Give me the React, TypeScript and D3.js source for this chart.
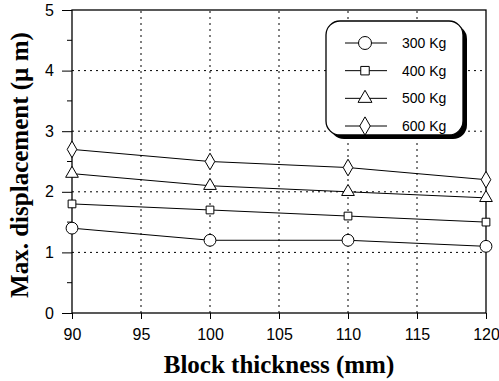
import React, { useEffect, useRef } from "react";
import * as d3 from "d3";

const thickness = [90, 100, 110, 120];
const loads = ["300 Kg", "400 Kg", "500 Kg", "600 Kg"];
const disp300 = [1.4, 1.2, 1.2, 1.1];
const disp400 = [1.8, 1.7, 1.6, 1.5];
const disp500 = [2.3, 2.1, 2.0, 1.9];
const disp600 = [2.7, 2.5, 2.4, 2.2];
const xTicks = [90, 95, 100, 105, 110, 115, 120];
const yTicks = [0, 1, 2, 3, 4, 5];

const series = [disp300, disp400, disp500, disp600];
const symbols = [d3.symbolCircle, d3.symbolSquare, d3.symbolTriangle, d3.symbolDiamond];
const symSizes = [110, 60, 70, 80];

const App = () => {
  const ref = useRef<SVGSVGElement>(null);

  useEffect(() => {
    const width = 499;
    const height = 381;
    const svg = d3.select(ref.current).attr("width", width).attr("height", height);
    svg.selectAll("*").remove();

    const x = d3.scaleLinear().domain([90, 120]).range([72, 486]);
    const y = d3.scaleLinear().domain([0, 5]).range([313, 10]);

    // grid
    svg.append("g")
      .selectAll("line")
      .data(xTicks.slice(1, -1))
      .join("line")
      .attr("x1", (d) => x(d)).attr("x2", (d) => x(d))
      .attr("y1", y(0)).attr("y2", y(5))
      .attr("stroke", "#000").attr("stroke-width", 1)
      .attr("stroke-dasharray", "2,4");
    svg.append("g")
      .selectAll("line")
      .data(yTicks.slice(1, -1))
      .join("line")
      .attr("x1", x(90)).attr("x2", x(120))
      .attr("y1", (d) => y(d)).attr("y2", (d) => y(d))
      .attr("stroke", "#000").attr("stroke-width", 1)
      .attr("stroke-dasharray", "2,4");

    // frame
    svg.append("rect")
      .attr("x", x(90)).attr("y", y(5))
      .attr("width", x(120) - x(90)).attr("height", y(0) - y(5))
      .attr("fill", "none").attr("stroke", "#000").attr("stroke-width", 1.3);

    // axes
    const xAxis = svg.append("g")
      .attr("transform", `translate(0,${y(0)})`)
      .call(d3.axisBottom(x).tickValues(xTicks).tickSize(6).tickPadding(10).tickFormat(d3.format("d")));
    xAxis.select(".domain").remove();
    xAxis.selectAll("text").attr("font-family", "Liberation Sans, Arial").attr("font-size", 16).attr("fill", "#000");

    const yAxis = svg.append("g")
      .attr("transform", `translate(${x(90)},0)`)
      .call(d3.axisLeft(y).tickValues(yTicks).tickSize(10).tickPadding(8).tickFormat(d3.format("d")));
    yAxis.select(".domain").remove();
    yAxis.selectAll("text").attr("font-family", "Liberation Sans, Arial").attr("font-size", 16).attr("fill", "#000");

    svg.append("g")
      .selectAll("line")
      .data(d3.range(0.5, 5, 1))
      .join("line")
      .attr("x1", x(90) - 5).attr("x2", x(90))
      .attr("y1", (d) => y(d)).attr("y2", (d) => y(d))
      .attr("stroke", "#000");

    // lines + markers
    const line = d3.line<number>().x((_, i) => x(thickness[i])).y((d) => y(d));
    series.forEach((s, k) => {
      svg.append("path").attr("d", line(s)).attr("fill", "none").attr("stroke", "#000").attr("stroke-width", 1);
      svg.append("g")
        .selectAll("path")
        .data(s)
        .join("path")
        .attr("transform", (d, i) => `translate(${x(thickness[i])},${y(d)})`)
        .attr("d", d3.symbol().type(symbols[k]).size(symSizes[k])())
        .attr("fill", "#fff").attr("stroke", "#000").attr("stroke-width", 1);
    });

    // legend
    const lg = svg.append("g");
    lg.append("rect").attr("x", 330).attr("y", 25).attr("width", 137).attr("height", 114)
      .attr("rx", 14).attr("fill", "#000");
    lg.append("rect").attr("x", 326).attr("y", 21).attr("width", 137).attr("height", 114)
      .attr("rx", 14).attr("fill", "#fff").attr("stroke", "#000").attr("stroke-width", 1.3);
    const legY = d3.scalePoint().domain(loads).range([43, 126]);
    loads.forEach((name, k) => {
      const yy = legY(name)!;
      lg.append("line").attr("x1", 345).attr("x2", 387).attr("y1", yy).attr("y2", yy).attr("stroke", "#000");
      lg.append("path").attr("transform", `translate(365,${yy})`)
        .attr("d", d3.symbol().type(symbols[k]).size(symSizes[k] * 1.2)())
        .attr("fill", "#fff").attr("stroke", "#000");
      lg.append("text").attr("x", 402).attr("y", yy + 5).text(name)
        .attr("font-family", "Liberation Sans, Arial").attr("font-size", 14);
    });

    // labels
    svg.append("text").attr("x", 279).attr("y", 373).attr("text-anchor", "middle")
      .attr("font-family", "Liberation Serif, Times New Roman").attr("font-weight", "bold").attr("font-size", 25)
      .text("Block thickness (mm)");
    svg.append("text").attr("transform", "translate(28,165) rotate(-90)").attr("text-anchor", "middle")
      .attr("font-family", "Liberation Serif, Times New Roman").attr("font-weight", "bold").attr("font-size", 25)
      .text("Max. displacement (\u00b5 m)");
  }, []);

  return <svg ref={ref} style={{ position: "absolute", left: 0, top: 0 }}></svg>;
};

export default App;
